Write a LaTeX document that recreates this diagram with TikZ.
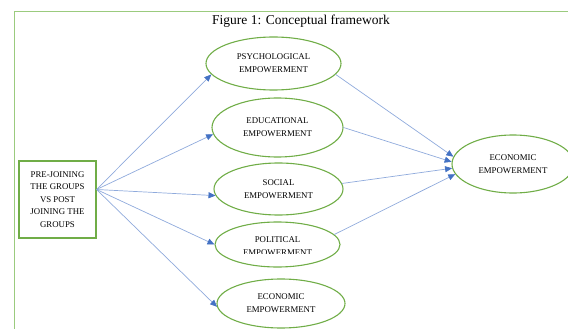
\documentclass[tikz,border=0pt]{standalone}
\usepackage{fontspec}
\setmainfont{Liberation Serif}
\usetikzlibrary{shapes.geometric,arrows.meta}

\definecolor{leaf}{HTML}{70AD47}
\definecolor{paleleaf}{HTML}{9BCB7E}
\definecolor{wire}{HTML}{8FAADC}
\definecolor{tip}{HTML}{4472C4}

\tikzset{
  bubble/.style={ellipse,draw=leaf,line width=1.1pt,inner sep=0pt,align=center,
    font=\fontsize{8.8}{12.8}\selectfont},
  box/.style={rectangle,draw=leaf,line width=1.1pt,inner sep=0pt,align=center,
    font=\fontsize{8.8}{12.5}\selectfont},
  txt/.style={inner sep=0pt,align=center,font=\fontsize{8.8}{12.8}\selectfont},
  flow/.style={draw=wire,line width=0.7pt,-{Triangle[length=7pt,width=6pt,color=tip]}}
}

\begin{document}
\begin{tikzpicture}[x=1pt,y=-1pt]
      \useasboundingbox (0,0) rectangle (568,329);
      \clip (0,0) rectangle (568,329);

      \draw[paleleaf,line width=1pt] (14,11.5) rectangle (620,380);
      \node (title) at (301,21) {\fontsize{13.5}{16}\selectfont Figure 1: Conceptual framework};

      \node[box,minimum width=77pt,minimum height=77pt] (pre) at (57.5,199.5)
        {PRE-JOINING\\THE GROUPS\\VS POST\\JOINING THE\\GROUPS};

      \node[bubble,minimum width=135pt,minimum height=53pt] (psy) at (273.5,63.5) {PSYCHOLOGICAL\\EMPOWERMENT};
      \node[bubble,minimum width=131pt,minimum height=59pt] (edu) at (277.5,127.5) {EDUCATIONAL\\EMPOWERMENT};
      \node[bubble,minimum width=129pt,minimum height=52pt] (soc) at (278.5,189) {SOCIAL\\EMPOWERMENT};
      \node[bubble,minimum width=125pt,minimum height=45pt] (pol) at (277.5,244.5) {};
      \begin{scope}
        \clip (230,225) rectangle (325,253.5);
        \node[txt] (poltext) at (277.5,246.5) {POLITICAL\\EMPOWERMENT};
      \end{scope}
      \node[bubble,minimum width=128pt,minimum height=49pt] (eco) at (281,303.5) {ECONOMIC\\EMPOWERMENT};
      \node[bubble,minimum width=122pt,minimum height=58pt] (out) at (513,164) {ECONOMIC\\EMPOWERMENT};

      \coordinate (src) at ([yshift=10pt]pre.east);
      \draw[flow] (src) -- (psy.190);
      \draw[flow] (src) -- (edu.186);
      \draw[flow] (src) -- (soc.186);
      \draw[flow] (src) -- (pol.west);
      \draw[flow] (src) -- (eco.183);

      \draw[flow] (psy.350) -- (out.173);
      \draw[flow] (edu.east) -- (out.178);
      \draw[flow] (soc.5) -- (out.184);
      \draw[flow] (pol.10) -- (out.190);
\end{tikzpicture}
\end{document}
